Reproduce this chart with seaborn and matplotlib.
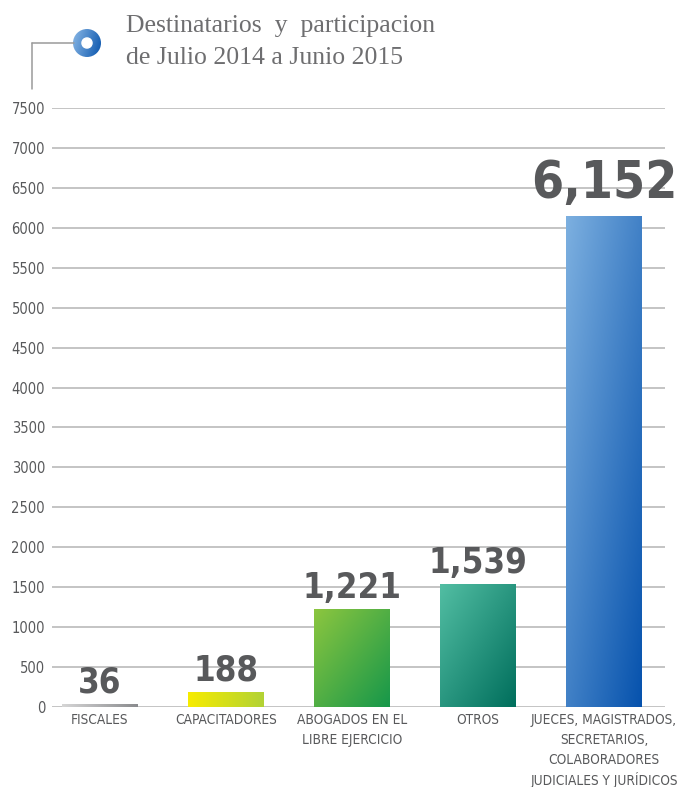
"""Bar chart: destinatarios y participacion, Julio 2014 - Junio 2015."""

import matplotlib.pyplot as plt
import numpy as np
import pandas as pd
import seaborn as sns
from matplotlib.colors import LinearSegmentedColormap
from matplotlib.patches import Circle
from matplotlib.lines import Line2D

categories = [
    "FISCALES",
    "CAPACITADORES",
    "ABOGADOS EN EL\nLIBRE EJERCICIO",
    "OTROS",
    "JUECES, MAGISTRADOS,\nSECRETARIOS,\nCOLABORADORES\nJUDICIALES Y JURÍDICOS",
]
values = [36, 188, 1221, 1539, 6152]
value_labels = ["36", "188", "1,221", "1,539", "6,152"]
y_ticks = list(range(0, 7501, 500))

# (start colour, end colour, direction) per bar
gradients = [
    ("#d6d6d6", "#8a8b8e", "h"),
    ("#f7ec00", "#b2d235", "h"),
    ("#8cc63f", "#16974a", "d"),
    ("#52bea3", "#006e5c", "d"),
    ("#7db0e0", "#0652ad", "d"),
]

GRID = "#b4b4b4"
TEXT = "#58595b"

sns.set_theme(style="white")
plt.rcParams["font.family"] = ["DejaVu Sans"]
plt.rcParams["font.stretch"] = "condensed"

df = pd.DataFrame({"cat": categories, "val": values})

fig = plt.figure(figsize=(6.77, 7.87), dpi=100)
ax = fig.add_axes([0.0768, 0.1017, 0.9054, 0.7611])

sns.barplot(data=df, x="cat", y="val", ax=ax, width=0.6, color="white", zorder=3)

n = 200
for patch, (c0, c1, mode) in zip(ax.patches, gradients):
    x0, y0 = patch.get_x(), patch.get_y()
    w, h = patch.get_width(), patch.get_height()
    cmap = LinearSegmentedColormap.from_list("g", [c0, c1])
    cols, rows = np.meshgrid(np.linspace(0, 1, n), np.linspace(0, 1, n))
    grad = cols if mode == "h" else (cols + rows) / 2
    im = ax.imshow(grad, cmap=cmap, extent=[x0, x0 + w, y0, y0 + h],
                   origin="upper", aspect="auto", zorder=3, vmin=0, vmax=1)
    im.set_clip_path(patch)
    patch.set_facecolor("none")
    patch.set_edgecolor("none")

for i, (v, lab) in enumerate(zip(values, value_labels)):
    big = i == len(values) - 1
    ax.annotate(lab, (i, v), xytext=(0, 13 if big else 8), textcoords="offset points",
                ha="center", va="baseline", fontsize=37 if big else 25,
                fontweight="bold", color=TEXT, stretch="condensed", zorder=4)

# category labels, one text per line so the line spacing stays even
for i, cat in enumerate(categories):
    for k, line in enumerate(cat.split("\n")):
        ax.annotate(line, (i, 0), xytext=(0, -9.4 - 14.4 * k), textcoords="offset points",
                    ha="center", va="center", fontsize=9.8, color=TEXT,
                    stretch="condensed", annotation_clip=False)

ax.set_xlim(-0.381, 4.484)
ax.set_ylim(0, 7500)
ax.set_yticks(y_ticks)
ax.set_yticklabels([str(t) for t in y_ticks], fontsize=10.5, color=TEXT)
ax.set_xticks(range(len(categories)))
ax.set_xticklabels([])
ax.tick_params(axis="both", length=0)
ax.tick_params(axis="y", pad=5)
ax.set_xlabel("")
ax.set_ylabel("")
for y in y_ticks:
    ax.axhline(y, color=GRID, lw=1.1, zorder=1)
for s in ax.spines.values():
    s.set_visible(False)

# title block with icon
W, H = 677, 787


def fx(px):
    return px / W


def fy(py):
    return 1 - py / H


fig.add_artist(Line2D([fx(32), fx(74)], [fy(43), fy(43)], color="#9a9a9a", lw=1.1))
fig.add_artist(Line2D([fx(32), fx(32)], [fy(43), fy(89)], color="#9a9a9a", lw=1.1))
icon_ax = fig.add_axes([fx(73), fy(57), fx(28), 28 / H])
icon_ax.set_xlim(-1, 1)
icon_ax.set_ylim(-1, 1)
icon_ax.axis("off")
ring = Circle((0, 0), 1, transform=icon_ax.transData)
gx, gy = np.meshgrid(np.linspace(0, 1, 100), np.linspace(0, 1, 100))
icon_ax.imshow((gx + 0.3 * gy) / 1.3, cmap=LinearSegmentedColormap.from_list(
    "icon", ["#8ab8e6", "#0a55ad"]), extent=[-1, 1, -1, 1], origin="upper",
    clip_path=ring, aspect="auto")
icon_ax.add_patch(Circle((0, 0), 0.36, color="white"))

fig.text(fx(126), fy(26), "Destinatarios  y  participacion", fontsize=18.5,
         family="Liberation Serif", color="#6e6e70", va="center", ha="left")
fig.text(fx(126), fy(58), "de Julio 2014 a Junio 2015", fontsize=18.5,
         family="Liberation Serif", color="#6e6e70", va="center", ha="left")

fig.savefig("out.png", dpi=100)
